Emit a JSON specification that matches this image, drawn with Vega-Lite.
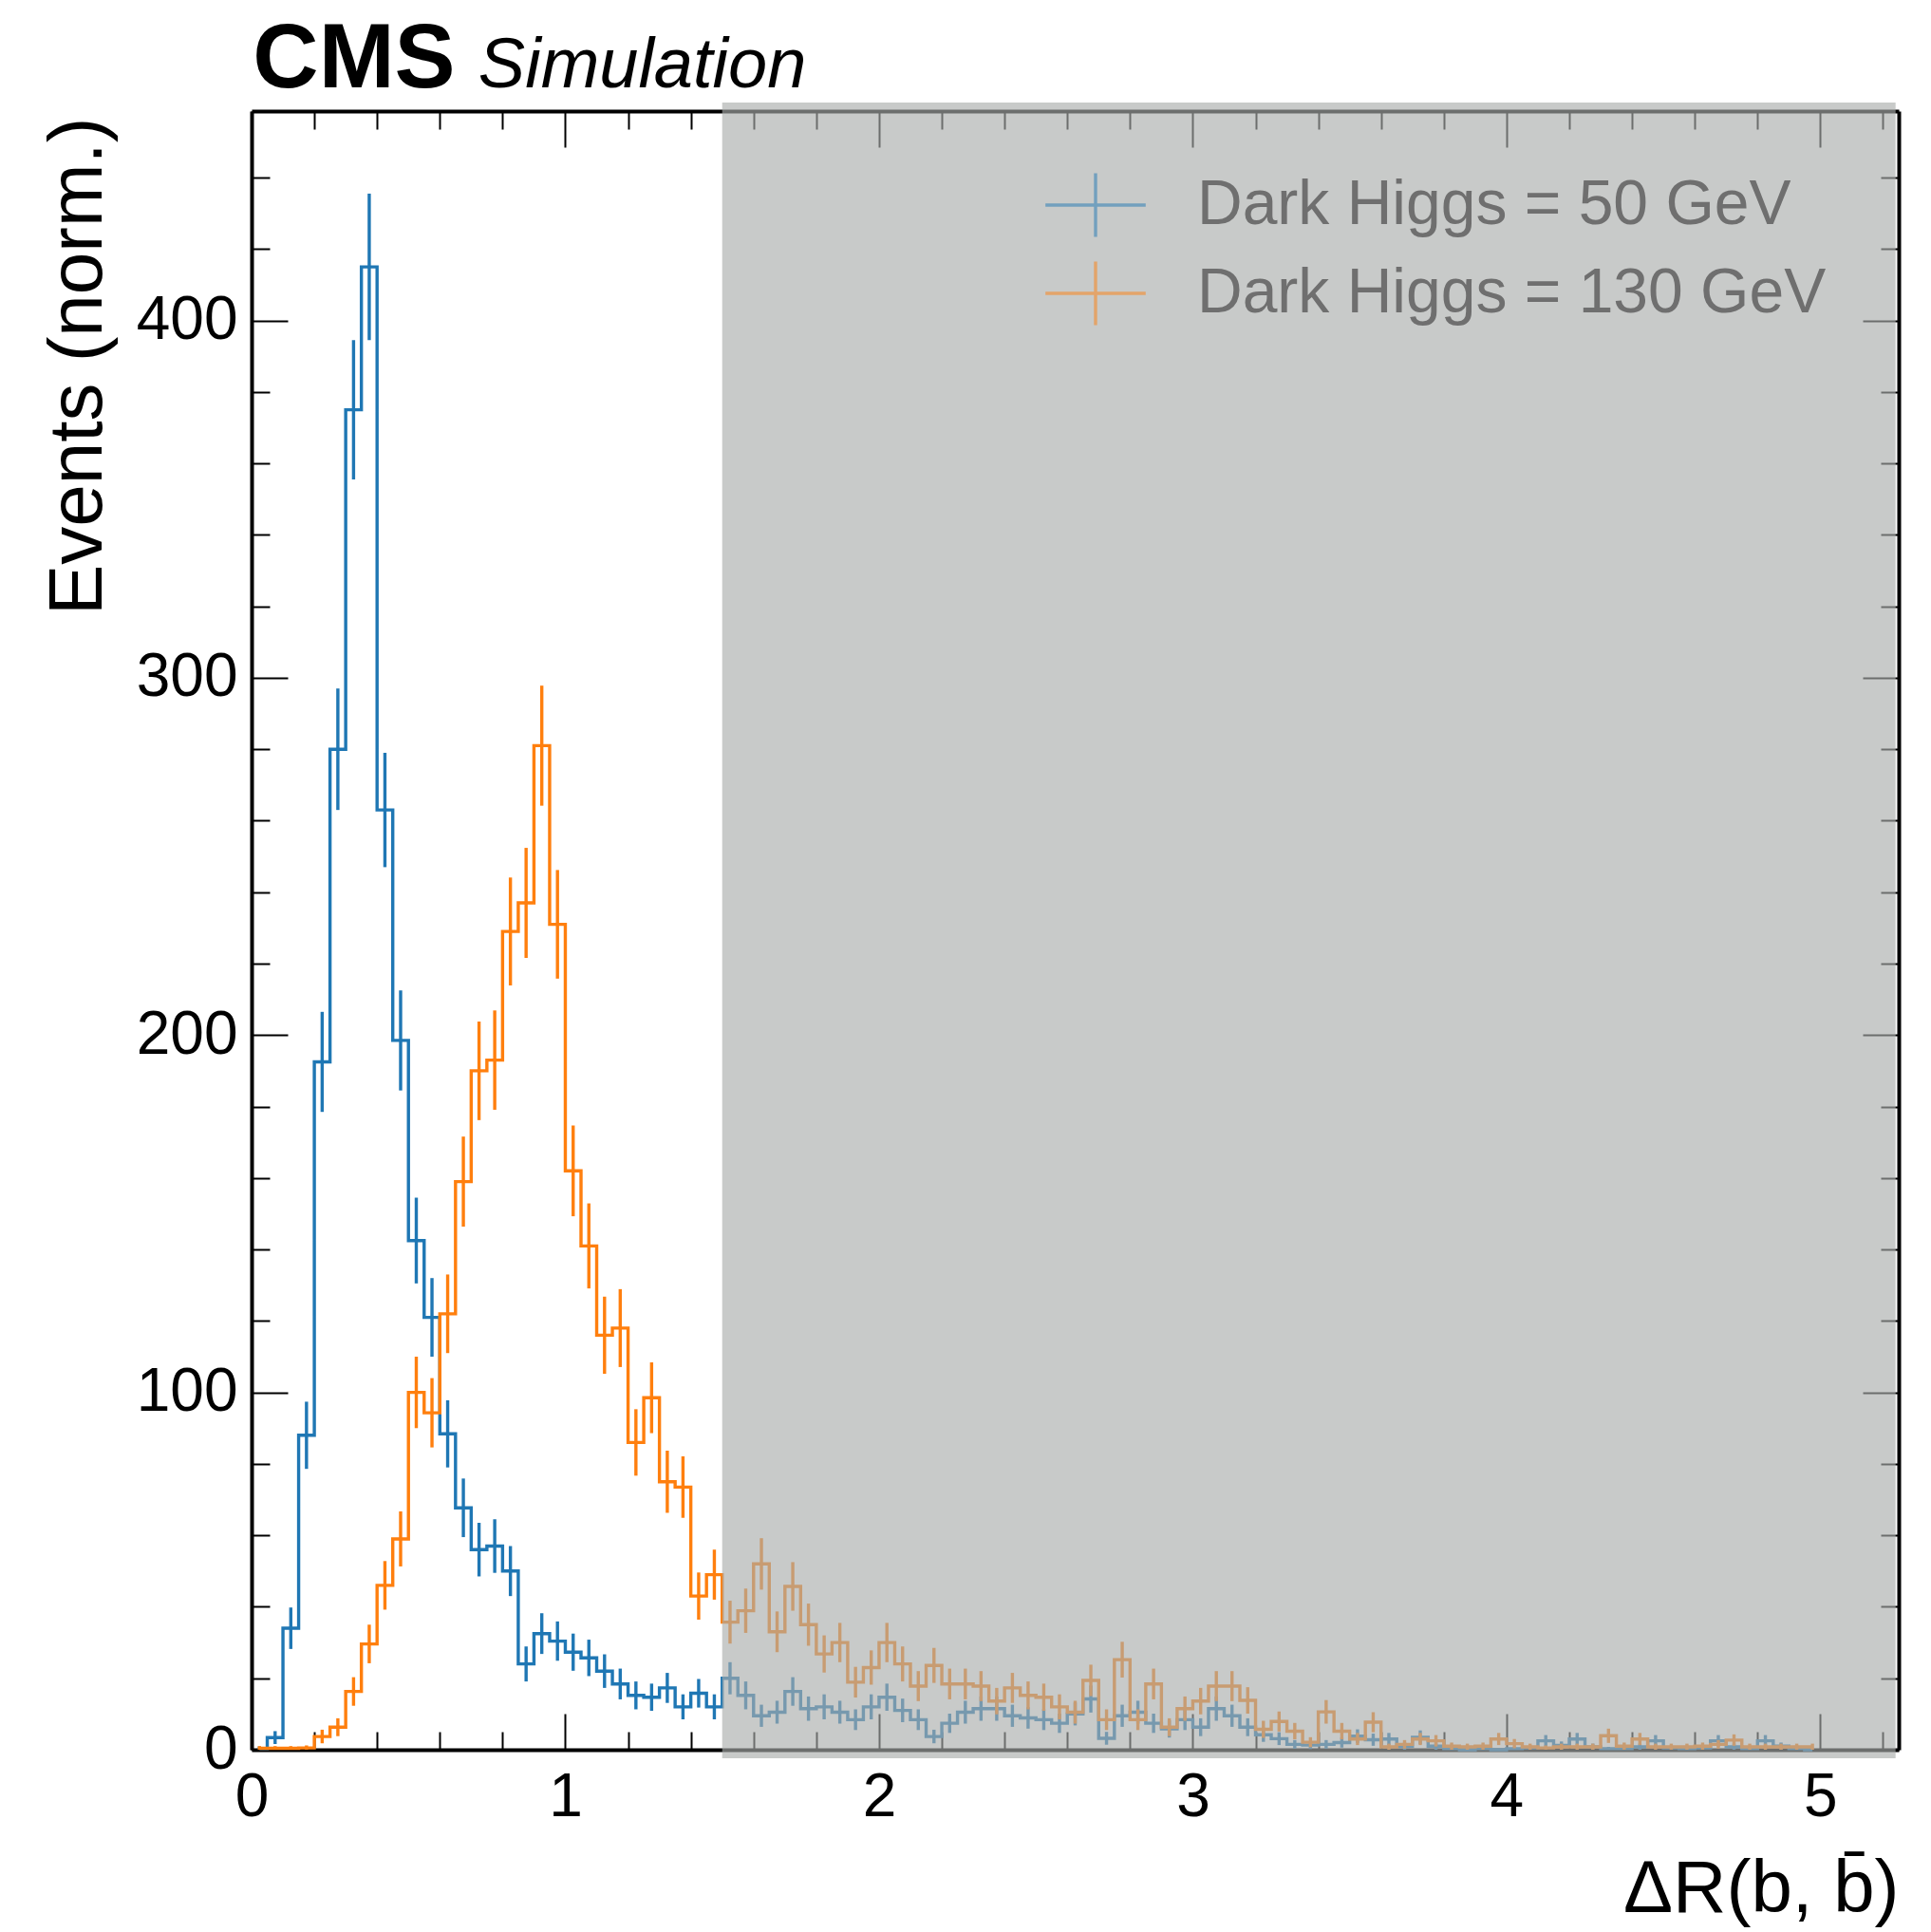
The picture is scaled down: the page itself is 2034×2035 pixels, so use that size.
{
  "$schema": "https://vega.github.io/schema/vega-lite/v6.json",
  "width": 1735,
  "height": 1726,
  "autosize": {"type": "none"},
  "padding": {"left": 265, "top": 117, "right": 34, "bottom": 192},
  "background": "white",
  "config": {"view": {"stroke": null}},
  "datasets": {
    "h50": [
      {"dr":0.025,"n":0.3,"lo":0,"hi":0.9},{"dr":0.075,"n":3.4,"lo":1.6,"hi":5.2},{"dr":0.125,"n":34,"lo":28.2,"hi":39.8},{"dr":0.175,"n":88,"lo":78.6,"hi":97.4},
      {"dr":0.225,"n":192.5,"lo":178.5,"hi":206.5},{"dr":0.275,"n":280,"lo":263,"hi":297},{"dr":0.325,"n":375,"lo":355.5,"hi":394.5},{"dr":0.375,"n":415,"lo":394.5,"hi":435.5},
      {"dr":0.425,"n":263,"lo":247,"hi":279},{"dr":0.475,"n":198.5,"lo":184.5,"hi":212.5},{"dr":0.525,"n":142.5,"lo":130.5,"hi":154.5},{"dr":0.575,"n":121,"lo":110,"hi":132},
      {"dr":0.625,"n":88.4,"lo":79,"hi":97.8},{"dr":0.675,"n":67.7,"lo":59.5,"hi":75.9},{"dr":0.725,"n":56,"lo":48.5,"hi":63.5},{"dr":0.775,"n":57,"lo":49.5,"hi":64.5},
      {"dr":0.825,"n":50,"lo":43,"hi":57},{"dr":0.875,"n":24,"lo":19.1,"hi":28.9},{"dr":0.925,"n":32.5,"lo":26.8,"hi":38.2},{"dr":0.975,"n":30.4,"lo":24.9,"hi":35.9},
      {"dr":1.025,"n":27.3,"lo":22.1,"hi":32.5},{"dr":1.075,"n":25.7,"lo":20.6,"hi":30.8},{"dr":1.125,"n":22,"lo":17.3,"hi":26.7},{"dr":1.175,"n":18.4,"lo":14.1,"hi":22.7},
      {"dr":1.225,"n":15.2,"lo":11.3,"hi":19.1},{"dr":1.275,"n":14.7,"lo":10.9,"hi":18.5},{"dr":1.325,"n":17.3,"lo":13.1,"hi":21.5},{"dr":1.375,"n":12,"lo":8.5,"hi":15.5},
      {"dr":1.425,"n":15.8,"lo":11.8,"hi":19.8},{"dr":1.475,"n":12,"lo":8.5,"hi":15.5},{"dr":1.525,"n":20,"lo":15.5,"hi":24.5},{"dr":1.575,"n":15.2,"lo":11.3,"hi":19.1},
      {"dr":1.625,"n":9.5,"lo":6.4,"hi":12.6},{"dr":1.675,"n":10.5,"lo":7.3,"hi":13.7},{"dr":1.725,"n":16.3,"lo":12.3,"hi":20.3},{"dr":1.775,"n":11.5,"lo":8.1,"hi":14.9},
      {"dr":1.825,"n":12,"lo":8.5,"hi":15.5},{"dr":1.875,"n":10.5,"lo":7.3,"hi":13.7},{"dr":1.925,"n":8.4,"lo":5.5,"hi":11.3},{"dr":1.975,"n":12,"lo":8.5,"hi":15.5},
      {"dr":2.025,"n":14.7,"lo":10.9,"hi":18.5},{"dr":2.075,"n":11,"lo":7.7,"hi":14.3},{"dr":2.125,"n":8.4,"lo":5.5,"hi":11.3},{"dr":2.175,"n":3.7,"lo":1.8,"hi":5.6},
      {"dr":2.225,"n":7.4,"lo":4.7,"hi":10.1},{"dr":2.275,"n":10.5,"lo":7.3,"hi":13.7},{"dr":2.325,"n":11.5,"lo":8.1,"hi":14.9},{"dr":2.375,"n":11.5,"lo":8.1,"hi":14.9},
      {"dr":2.425,"n":9.5,"lo":6.4,"hi":12.6},{"dr":2.475,"n":8.9,"lo":5.9,"hi":11.9},{"dr":2.525,"n":8.4,"lo":5.5,"hi":11.3},{"dr":2.575,"n":7.4,"lo":4.7,"hi":10.1},
      {"dr":2.625,"n":10,"lo":6.8,"hi":13.2},{"dr":2.675,"n":14.2,"lo":10.4,"hi":18},{"dr":2.725,"n":3.2,"lo":1.4,"hi":5},{"dr":2.775,"n":9.5,"lo":6.4,"hi":12.6},
      {"dr":2.825,"n":10.5,"lo":7.3,"hi":13.7},{"dr":2.875,"n":7.4,"lo":4.7,"hi":10.1},{"dr":2.925,"n":5.8,"lo":3.4,"hi":8.2},{"dr":2.975,"n":8.4,"lo":5.5,"hi":11.3},
      {"dr":3.025,"n":6.3,"lo":3.8,"hi":8.8},{"dr":3.075,"n":11.5,"lo":8.1,"hi":14.9},{"dr":3.125,"n":9.5,"lo":6.4,"hi":12.6},{"dr":3.175,"n":6.3,"lo":3.8,"hi":8.8},
      {"dr":3.225,"n":4.2,"lo":2.2,"hi":6.2},{"dr":3.275,"n":3.1,"lo":1.3,"hi":4.9},{"dr":3.325,"n":1.5,"lo":0.3,"hi":2.7},{"dr":3.375,"n":1.3,"lo":0.2,"hi":2.4},
      {"dr":3.425,"n":1.5,"lo":0.3,"hi":2.7},{"dr":3.475,"n":2,"lo":0.6,"hi":3.4},{"dr":3.525,"n":3.8,"lo":1.9,"hi":5.7},{"dr":3.575,"n":2.8,"lo":1.1,"hi":4.5},
      {"dr":3.625,"n":3,"lo":1.3,"hi":4.7},{"dr":3.675,"n":1,"lo":0,"hi":2},{"dr":3.725,"n":3.5,"lo":1.6,"hi":5.4},{"dr":3.775,"n":1,"lo":0,"hi":2},
      {"dr":3.825,"n":0.3,"lo":0,"hi":0.8},{"dr":3.875,"n":0,"lo":0,"hi":0},{"dr":3.925,"n":0.3,"lo":0,"hi":0.8},{"dr":3.975,"n":0,"lo":0,"hi":0},
      {"dr":4.025,"n":0.3,"lo":0,"hi":0.8},{"dr":4.075,"n":0.5,"lo":0,"hi":1.2},{"dr":4.125,"n":2.5,"lo":0.9,"hi":4.1},{"dr":4.175,"n":1.2,"lo":0.1,"hi":2.3},
      {"dr":4.225,"n":3,"lo":1.3,"hi":4.7},{"dr":4.275,"n":0.8,"lo":0,"hi":1.7},{"dr":4.325,"n":0.3,"lo":0,"hi":0.8},{"dr":4.375,"n":0.3,"lo":0,"hi":0.8},
      {"dr":4.425,"n":0.8,"lo":0,"hi":1.7},{"dr":4.475,"n":2.5,"lo":0.9,"hi":4.1},{"dr":4.525,"n":0.5,"lo":0,"hi":1.2},{"dr":4.575,"n":0.3,"lo":0,"hi":0.8},
      {"dr":4.625,"n":0.5,"lo":0,"hi":1.2},{"dr":4.675,"n":2.5,"lo":0.9,"hi":4.1},{"dr":4.725,"n":0.8,"lo":0,"hi":1.7},{"dr":4.775,"n":0.3,"lo":0,"hi":0.8},
      {"dr":4.825,"n":2.5,"lo":0.9,"hi":4.1},{"dr":4.875,"n":1,"lo":0,"hi":2},{"dr":4.925,"n":0.3,"lo":0,"hi":0.8},{"dr":4.975,"n":0,"lo":0,"hi":0}
    ],
    "h130": [
      {"dr":0.025,"n":0.4,"lo":0,"hi":1},{"dr":0.075,"n":0.4,"lo":0,"hi":1},{"dr":0.125,"n":0.4,"lo":0,"hi":1},{"dr":0.175,"n":0.5,"lo":0,"hi":1.2},
      {"dr":0.225,"n":3.7,"lo":1.8,"hi":5.6},{"dr":0.275,"n":6.3,"lo":3.8,"hi":8.8},{"dr":0.325,"n":16.3,"lo":12.3,"hi":20.3},{"dr":0.375,"n":29.6,"lo":24.2,"hi":35},
      {"dr":0.425,"n":46,"lo":39.2,"hi":52.8},{"dr":0.475,"n":59,"lo":51.3,"hi":66.7},{"dr":0.525,"n":100,"lo":90,"hi":110},{"dr":0.575,"n":94.3,"lo":84.6,"hi":104},
      {"dr":0.625,"n":122,"lo":111,"hi":133},{"dr":0.675,"n":159,"lo":146.4,"hi":171.6},{"dr":0.725,"n":190,"lo":176.2,"hi":203.8},{"dr":0.775,"n":193,"lo":179.1,"hi":206.9},
      {"dr":0.825,"n":229,"lo":213.9,"hi":244.1},{"dr":0.875,"n":237,"lo":221.6,"hi":252.4},{"dr":0.925,"n":281,"lo":264.2,"hi":297.8},{"dr":0.975,"n":231,"lo":215.8,"hi":246.2},
      {"dr":1.025,"n":162,"lo":149.3,"hi":174.7},{"dr":1.075,"n":141,"lo":129.1,"hi":152.9},{"dr":1.125,"n":116,"lo":105.2,"hi":126.8},{"dr":1.175,"n":118,"lo":107.1,"hi":128.9},
      {"dr":1.225,"n":86,"lo":76.7,"hi":95.3},{"dr":1.275,"n":98.5,"lo":88.6,"hi":108.4},{"dr":1.325,"n":75,"lo":66.3,"hi":83.7},{"dr":1.375,"n":73.5,"lo":64.9,"hi":82.1},
      {"dr":1.425,"n":43,"lo":36.4,"hi":49.6},{"dr":1.475,"n":49,"lo":42,"hi":56},{"dr":1.525,"n":35.7,"lo":29.7,"hi":41.7},{"dr":1.575,"n":38.9,"lo":32.7,"hi":45.1},
      {"dr":1.625,"n":52,"lo":44.8,"hi":59.2},{"dr":1.675,"n":33,"lo":27.3,"hi":38.7},{"dr":1.725,"n":45.7,"lo":38.9,"hi":52.5},{"dr":1.775,"n":35,"lo":29.1,"hi":40.9},
      {"dr":1.825,"n":26.8,"lo":21.6,"hi":32},{"dr":1.875,"n":30,"lo":24.5,"hi":35.5},{"dr":1.925,"n":18.9,"lo":14.6,"hi":23.2},{"dr":1.975,"n":23,"lo":18.2,"hi":27.8},
      {"dr":2.025,"n":30,"lo":24.5,"hi":35.5},{"dr":2.075,"n":24,"lo":19.1,"hi":28.9},{"dr":2.125,"n":17.8,"lo":13.6,"hi":22},{"dr":2.175,"n":23.6,"lo":18.7,"hi":28.5},
      {"dr":2.225,"n":18.4,"lo":14.1,"hi":22.7},{"dr":2.275,"n":18.4,"lo":14.1,"hi":22.7},{"dr":2.325,"n":17.8,"lo":13.6,"hi":22},{"dr":2.375,"n":13.6,"lo":9.9,"hi":17.3},
      {"dr":2.425,"n":17.3,"lo":13.1,"hi":21.5},{"dr":2.475,"n":15.2,"lo":11.3,"hi":19.1},{"dr":2.525,"n":14.7,"lo":10.9,"hi":18.5},{"dr":2.575,"n":12,"lo":8.5,"hi":15.5},
      {"dr":2.625,"n":10.5,"lo":7.3,"hi":13.7},{"dr":2.675,"n":19.4,"lo":15,"hi":23.8},{"dr":2.725,"n":8.4,"lo":5.5,"hi":11.3},{"dr":2.775,"n":25.2,"lo":20.2,"hi":30.2},
      {"dr":2.825,"n":8.4,"lo":5.5,"hi":11.3},{"dr":2.875,"n":18.4,"lo":14.1,"hi":22.7},{"dr":2.925,"n":6.3,"lo":3.8,"hi":8.8},{"dr":2.975,"n":11.5,"lo":8.1,"hi":14.9},
      {"dr":3.025,"n":13.6,"lo":9.9,"hi":17.3},{"dr":3.075,"n":17.8,"lo":13.6,"hi":22},{"dr":3.125,"n":17.8,"lo":13.6,"hi":22},{"dr":3.175,"n":13.8,"lo":10.1,"hi":17.5},
      {"dr":3.225,"n":5.7,"lo":3.3,"hi":8.1},{"dr":3.275,"n":7.9,"lo":5.1,"hi":10.7},{"dr":3.325,"n":5.2,"lo":2.9,"hi":7.5},{"dr":3.375,"n":2.1,"lo":0.7,"hi":3.5},
      {"dr":3.425,"n":10.6,"lo":7.3,"hi":13.9},{"dr":3.475,"n":5.2,"lo":2.9,"hi":7.5},{"dr":3.525,"n":3,"lo":1.3,"hi":4.7},{"dr":3.575,"n":7.7,"lo":4.9,"hi":10.5},
      {"dr":3.625,"n":0.8,"lo":0,"hi":1.7},{"dr":3.675,"n":1.5,"lo":0.3,"hi":2.7},{"dr":3.725,"n":3,"lo":1.3,"hi":4.7},{"dr":3.775,"n":2.5,"lo":0.9,"hi":4.1},
      {"dr":3.825,"n":1,"lo":0,"hi":2},{"dr":3.875,"n":0.8,"lo":0,"hi":1.7},{"dr":3.925,"n":1,"lo":0,"hi":2},{"dr":3.975,"n":3,"lo":1.3,"hi":4.7},
      {"dr":4.025,"n":1.7,"lo":0.4,"hi":3},{"dr":4.075,"n":0.8,"lo":0,"hi":1.7},{"dr":4.125,"n":0.5,"lo":0,"hi":1.2},{"dr":4.175,"n":0.8,"lo":0,"hi":1.7},
      {"dr":4.225,"n":0.8,"lo":0,"hi":1.7},{"dr":4.275,"n":0.8,"lo":0,"hi":1.7},{"dr":4.325,"n":3.9,"lo":1.9,"hi":5.9},{"dr":4.375,"n":1,"lo":0,"hi":2},
      {"dr":4.425,"n":3,"lo":1.3,"hi":4.7},{"dr":4.475,"n":0.8,"lo":0,"hi":1.7},{"dr":4.525,"n":0.8,"lo":0,"hi":1.7},{"dr":4.575,"n":0.8,"lo":0,"hi":1.7},
      {"dr":4.625,"n":1,"lo":0,"hi":2},{"dr":4.675,"n":1.5,"lo":0.3,"hi":2.7},{"dr":4.725,"n":2.7,"lo":1.1,"hi":4.3},{"dr":4.775,"n":0.8,"lo":0,"hi":1.7},
      {"dr":4.825,"n":0.8,"lo":0,"hi":1.7},{"dr":4.875,"n":0.8,"lo":0,"hi":1.7},{"dr":4.925,"n":0.8,"lo":0,"hi":1.7},{"dr":4.975,"n":0.8,"lo":0,"hi":1.7}
    ]
  },
  "resolve": {"axis": {"x": "independent", "y": "independent"}},
  "layer": [
    {
      "data": {"name": "h50"},
      "mark": {"type": "line", "interpolate": "step", "strokeWidth": 3.4},
      "encoding": {
        "x": {"field": "dr", "type": "quantitative",
          "scale": {"domain": [0, 5.25], "nice": false, "zero": false},
          "axis": {"orient": "bottom", "values": [0,0.2,0.4,0.6,0.8,1,1.2,1.4,1.6,1.8,2,2.2,2.4,2.6,2.8,3,3.2,3.4,3.6,3.8,4,4.2,4.4,4.6,4.8,5,5.2],
            "labelExpr": "abs(datum.value - round(datum.value)) < 0.001 ? format(datum.value, '.0f') : ''",
            "tickSize": {"condition": {"test": "abs(datum.value - round(datum.value)) < 0.001", "value": -38}, "value": -19},
            "tickWidth": 2, "tickColor": "black", "domainColor": "black", "domainWidth": 4, "grid": false,
            "labelFont": "Liberation Sans", "labelFontSize": 64, "labelColor": "black", "labelPadding": 56, "labelFlush": false, "labelOverlap": false,
            "title": "ΔR(b, b̄)", "titleFont": "Liberation Sans", "titleFontSize": 78, "titleFontWeight": "normal", "titleColor": "black",
            "titleAlign": "right", "titleBaseline": "alphabetic", "titleX": 1735, "titleY": 170}},
        "y": {"field": "n", "type": "quantitative",
          "scale": {"domain": [0, 458.6], "nice": false, "zero": false},
          "axis": {"orient": "left", "values": [0,20,40,60,80,100,120,140,160,180,200,220,240,260,280,300,320,340,360,380,400,420,440],
            "labelExpr": "datum.value % 100 === 0 ? datum.label : ''",
            "tickSize": {"condition": {"test": "datum.value % 100 === 0", "value": -38}, "value": -19},
            "tickWidth": 2, "tickColor": "black", "domainColor": "black", "domainWidth": 4, "grid": false,
            "labelFont": "Liberation Sans", "labelFontSize": 64, "labelColor": "black", "labelPadding": 53, "labelOverlap": false, "labelFlush": false,
            "title": "Events (norm.)", "titleFont": "Liberation Sans", "titleFontSize": 80, "titleFontWeight": "normal", "titleColor": "black",
            "titleAngle": 270, "titleAlign": "right", "titleBaseline": "alphabetic", "titleX": -159, "titleY": 6}},
        "color": {"datum": "Dark Higgs = 50 GeV", "type": "nominal",
          "scale": {"domain": ["Dark Higgs = 50 GeV", "Dark Higgs = 130 GeV"], "range": ["#1f77b4", "#ff7f0e"]},
          "legend": {"orient": "none", "legendX": 839, "legendY": 49, "title": null, "padding": 0,
            "symbolType": "M-1.1,0H1.1M0,-0.7V0.7", "symbolSize": 9216, "symbolStrokeWidth": 3.4, "symbolOpacity": 0.5,
            "labelFont": "Liberation Sans", "labelFontSize": 66, "labelColor": "#6f6f6f", "labelOffset": 57, "labelLimit": 2000, "rowPadding": 2}}
      }
    },
    {
      "data": {"name": "h50"},
      "mark": {"type": "rule", "strokeWidth": 3.4},
      "encoding": {
        "x": {"field": "dr", "type": "quantitative", "axis": null},
        "y": {"field": "lo", "type": "quantitative", "axis": null},
        "y2": {"field": "hi"},
        "color": {"datum": "Dark Higgs = 50 GeV", "type": "nominal"}
      }
    },
    {
      "data": {"name": "h130"},
      "mark": {"type": "line", "interpolate": "step", "strokeWidth": 3.4},
      "encoding": {
        "x": {"field": "dr", "type": "quantitative", "axis": null},
        "y": {"field": "n", "type": "quantitative", "axis": null},
        "color": {"datum": "Dark Higgs = 130 GeV", "type": "nominal"}
      }
    },
    {
      "data": {"name": "h130"},
      "mark": {"type": "rule", "strokeWidth": 3.4},
      "encoding": {
        "x": {"field": "dr", "type": "quantitative", "axis": null},
        "y": {"field": "lo", "type": "quantitative", "axis": null},
        "y2": {"field": "hi"},
        "color": {"datum": "Dark Higgs = 130 GeV", "type": "nominal"}
      }
    },
    {
      "data": {"values": [{"region": "masked"}]},
      "mark": {"type": "rect", "color": "#a9acab", "opacity": 0.64},
      "encoding": {
        "x": {"datum": 1.5, "type": "quantitative",
          "axis": {"orient": "top", "values": [0,0.2,0.4,0.6,0.8,1,1.2,1.4,1.6,1.8,2,2.2,2.4,2.6,2.8,3,3.2,3.4,3.6,3.8,4,4.2,4.4,4.6,4.8,5,5.2],
            "labels": false, "title": null,
            "tickSize": {"condition": {"test": "abs(datum.value - round(datum.value)) < 0.001", "value": -38}, "value": -19},
            "tickWidth": 2, "tickColor": "black", "domainColor": "black", "domainWidth": 4, "grid": false}},
        "x2": {"datum": 5.24},
        "y": {"datum": -2.4, "type": "quantitative",
          "axis": {"orient": "right", "values": [0,20,40,60,80,100,120,140,160,180,200,220,240,260,280,300,320,340,360,380,400,420,440],
            "labels": false, "title": null,
            "tickSize": {"condition": {"test": "datum.value % 100 === 0", "value": -38}, "value": -19},
            "tickWidth": 2, "tickColor": "black", "domainColor": "black", "domainWidth": 4, "grid": false}},
        "y2": {"datum": 461}
      }
    },
    {
      "data": {"values": [{"t": "CMS"}]},
      "mark": {"type": "text", "align": "left", "baseline": "alphabetic", "font": "Liberation Sans", "fontSize": 96, "fontWeight": "bold", "color": "black"},
      "encoding": {
        "x": {"datum": 0.004, "type": "quantitative", "axis": null},
        "y": {"datum": 465.2, "type": "quantitative", "axis": null},
        "text": {"field": "t"}
      }
    },
    {
      "data": {"values": [{"t": "Simulation"}]},
      "mark": {"type": "text", "align": "left", "baseline": "alphabetic", "font": "Liberation Sans", "fontSize": 74, "fontStyle": "italic", "color": "black"},
      "encoding": {
        "x": {"datum": 0.7227, "type": "quantitative", "axis": null},
        "y": {"datum": 465.2, "type": "quantitative", "axis": null},
        "text": {"field": "t"}
      }
    }
  ]
}
